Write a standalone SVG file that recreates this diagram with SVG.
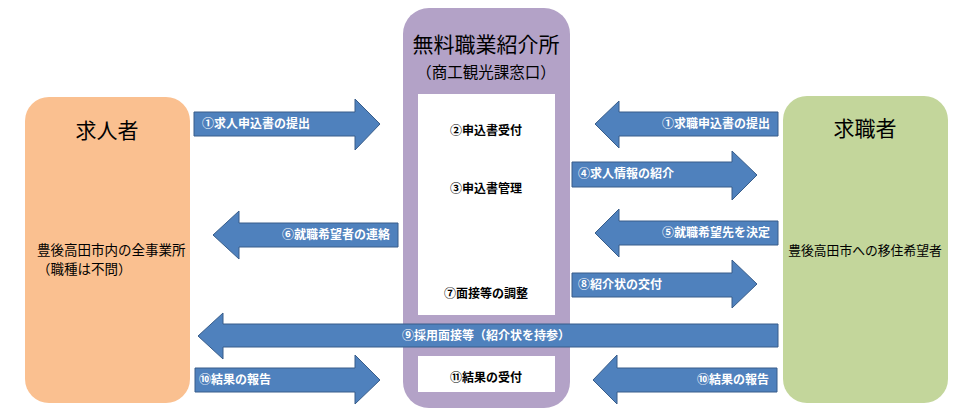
<svg xmlns="http://www.w3.org/2000/svg" width="980" height="414" viewBox="0 0 980 414">
<style>
.t{font-family:"Noto Sans CJK JP","Noto Sans",sans-serif;fill:#000}
.big{font-size:21px}
.sub{font-size:15.5px}
.lbl{font-size:13.5px}
.lbl2{font-size:12.8px}
.in{font-size:12px;font-weight:bold;text-anchor:middle}
.ar{fill:#4F81BD;stroke:#385D8A;stroke-width:1}
.at{font-family:"Noto Sans CJK JP","Noto Sans",sans-serif;font-size:12px;font-weight:bold;fill:#fff}
</style>
<rect width="980" height="414" fill="#fff"/>
<g id="kyujinsha">
<rect x="25" y="97" width="165" height="306" rx="24" fill="#FAC090"/>
<text class="t big" x="107" y="138" text-anchor="middle">求人者</text>
<text class="t lbl" x="37" y="255">豊後高田市内の全事業所</text>
<text class="t lbl" x="37" y="274">（職種は不問）</text>
</g>
<g id="shokaisho">
<rect x="403" y="8" width="167" height="400" rx="26" fill="#B3A2C7"/>
<text class="t big" x="486" y="52" text-anchor="middle">無料職業紹介所</text>
<text class="t sub" x="486" y="78" text-anchor="middle">（商工観光課窓口）</text>
<rect x="418" y="94" width="137" height="221" fill="#fff"/>
<rect x="418" y="356" width="137" height="36" fill="#fff"/>
<text class="t in" x="486" y="135">②申込書受付</text>
<text class="t in" x="486" y="193">③申込書管理</text>
<text class="t in" x="486" y="298">⑦面接等の調整</text>
<text class="t in" x="486" y="382">⑪結果の受付</text>
</g>
<g id="kyushokusha">
<rect x="783" y="96" width="165" height="307" rx="24" fill="#C3D69B"/>
<text class="t big" x="865" y="136" text-anchor="middle">求職者</text>
<text class="t lbl2" x="865" y="255" text-anchor="middle">豊後高田市への移住希望者</text>
</g>
<g id="connectors">
<path class="ar" d="M194,112 H355 V99 L380,124 L355,150 V136 H194 Z"/>
<text class="at" x="202" y="128">①求人申込書の提出</text>
<path class="ar" d="M398,223 H239 V211 L213,235 L239,259 V247 H398 Z"/>
<text class="at" x="390" y="239" text-anchor="end">⑥就職希望者の連絡</text>
<path class="ar" d="M778,324 H223 V313 L198,336 L223,359 V347 H778 Z"/>
<text class="at" x="486" y="340" text-anchor="middle">⑨採用面接等（紹介状を持参）</text>
<path class="ar" d="M195,368 H355 V355 L380,380 L355,404 V392 H195 Z"/>
<text class="at" x="199" y="384">⑩結果の報告</text>
<path class="ar" d="M778,112 H619 V101 L595,124 L619,148 V136 H778 Z"/>
<text class="at" x="770" y="128" text-anchor="end">①求職申込書の提出</text>
<path class="ar" d="M572,162 H732 V151 L757,175 L732,200 V187 H572 Z"/>
<text class="at" x="578" y="178">④求人情報の紹介</text>
<path class="ar" d="M778,221 H619 V209 L595,233 L619,257 V245 H778 Z"/>
<text class="at" x="770" y="237" text-anchor="end">⑤就職希望先を決定</text>
<path class="ar" d="M572,273 H732 V260 L757,284 L732,308 V297 H572 Z"/>
<text class="at" x="578" y="289">⑧紹介状の交付</text>
<path class="ar" d="M777,368 H617 V355 L593,380 L617,404 V392 H777 Z"/>
<text class="at" x="769" y="384" text-anchor="end">⑩結果の報告</text>
</g>
</svg>
